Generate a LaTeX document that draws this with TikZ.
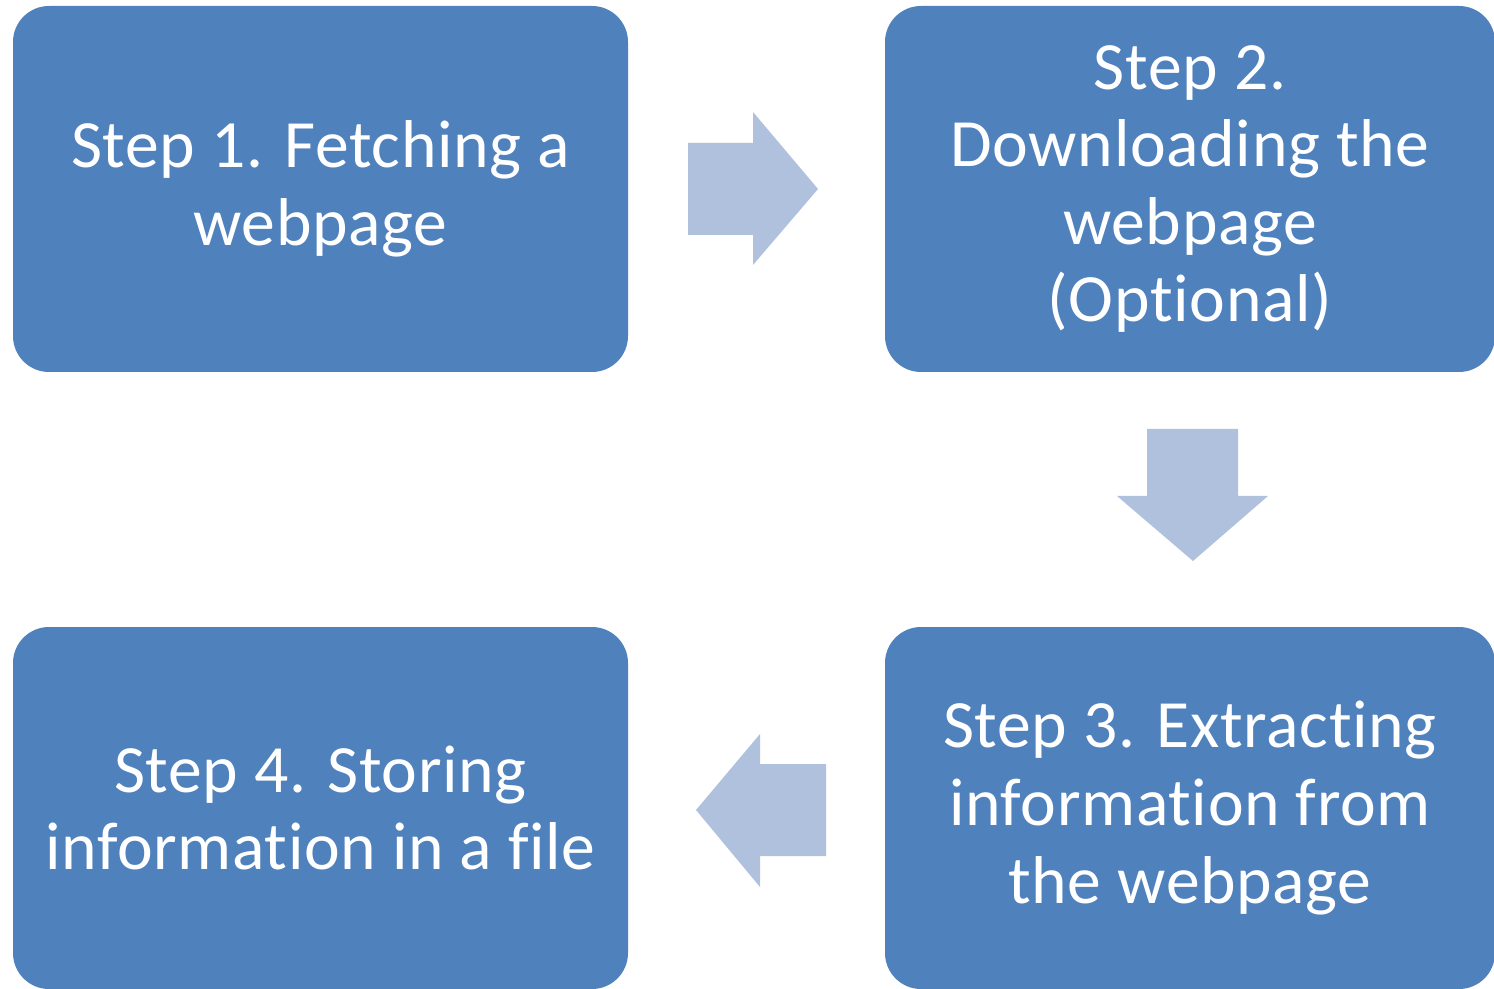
\documentclass[tikz,border=0pt]{standalone}
\usepackage{fontspec}
\setmainfont{Carlito}[Ligatures=NoCommon, LetterSpace=1]
\usetikzlibrary{positioning,calc}
\definecolor{boxblue}{HTML}{4F81BD}
\definecolor{arrowblue}{HTML}{B0C1DD}
\tikzset{
  stepbox/.style={fill=boxblue, rounded corners=36\unitpx, minimum width=615\unitpx,
    minimum height=366\unitpx, align=center, text=white, inner sep=0pt,
    font=\fontsize{38.5}{44.2}\selectfont},
  blockarrow/.style={fill=arrowblue}
}
\newlength{\unitpx}
\setlength{\unitpx}{0.02cm}
\begin{document}
\begin{tikzpicture}[x=0.02cm, y=-0.02cm]
\useasboundingbox (0,0) rectangle (1494,989);
% les quatre etapes
\node[stepbox] (fetch) at (320.5,189) {Step 1. Fetching a\\webpage};
\node[stepbox, minimum width=610\unitpx] (download) at (1190,189) {Step 2.\\Downloading the\\webpage\\(Optional)};
\node[stepbox, minimum width=610\unitpx, minimum height=362\unitpx] (extract) at (1190,808) {Step 3. Extracting\\information from\\the webpage};
\node[stepbox, minimum height=362\unitpx] (store) at (320.5,808) {Step 4. Storing\\information in a file};
% fleches entre les etapes
\fill[blockarrow] (688,143) -- (753,143) -- (753,112) -- (818,189) -- (753,265) -- (753,235) -- (688,235) -- cycle;
\fill[blockarrow] (1147,429) -- (1238,429) -- (1238,496) -- (1268,496) -- (1193,561) -- (1117,496) -- (1147,496) -- cycle;
\fill[blockarrow] (826,764) -- (760,764) -- (760,734) -- (696,810) -- (760,887) -- (760,856) -- (826,856) -- cycle;
\end{tikzpicture}
\end{document}
